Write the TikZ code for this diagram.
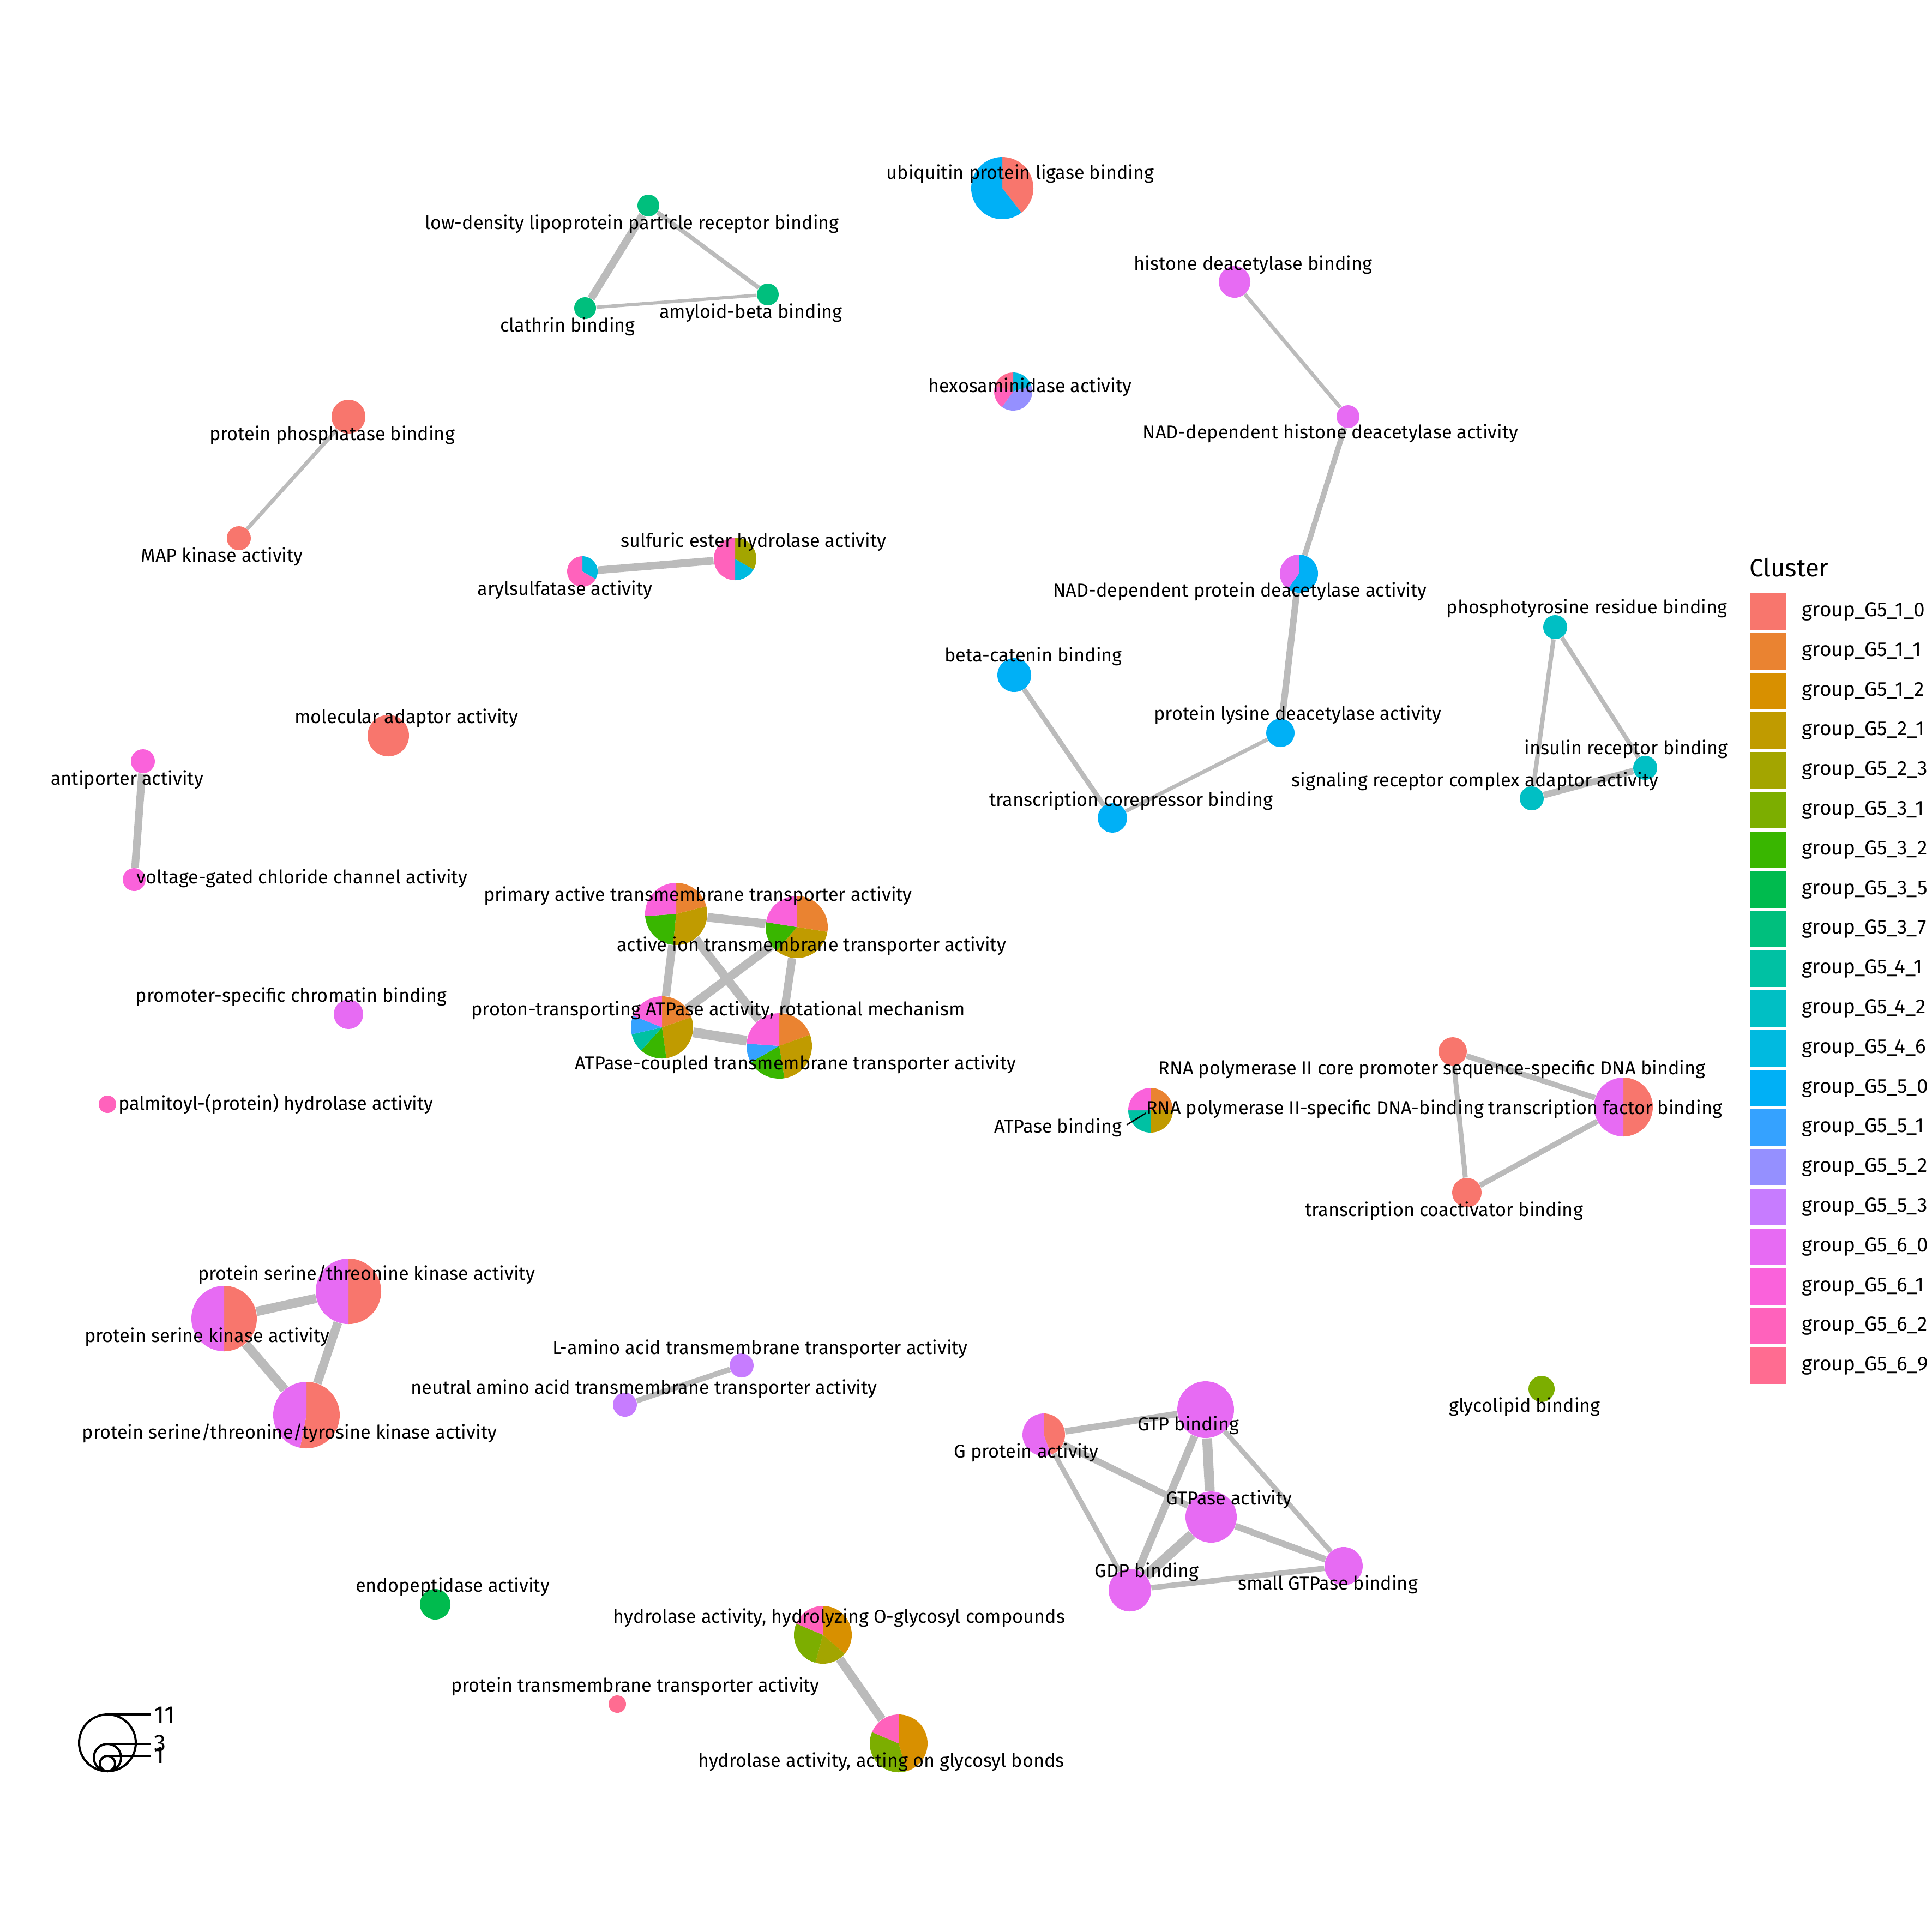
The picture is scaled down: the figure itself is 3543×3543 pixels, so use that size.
\documentclass[tikz,border=0pt]{standalone}
\usepackage{fontspec}
\setmainfont{Fira Sans}
\usepackage{tikz}
\usetikzlibrary{backgrounds}
\definecolor{g10}{HTML}{F8766D}
\definecolor{g11}{HTML}{EA8331}
\definecolor{g12}{HTML}{D89000}
\definecolor{g21}{HTML}{C09B00}
\definecolor{g23}{HTML}{A3A500}
\definecolor{g31}{HTML}{7CAE00}
\definecolor{g32}{HTML}{39B600}
\definecolor{g35}{HTML}{00BB4E}
\definecolor{g37}{HTML}{00BF7D}
\definecolor{g41}{HTML}{00C1A3}
\definecolor{g42}{HTML}{00BFC4}
\definecolor{g46}{HTML}{00BAE0}
\definecolor{g50}{HTML}{00B0F6}
\definecolor{g51}{HTML}{35A2FF}
\definecolor{g52}{HTML}{9590FF}
\definecolor{g53}{HTML}{C77CFF}
\definecolor{g60}{HTML}{E76BF3}
\definecolor{g61}{HTML}{FA62DB}
\definecolor{g62}{HTML}{FF62BC}
\definecolor{g69}{HTML}{FF6C91}
\definecolor{edgegray}{HTML}{BBBBBB}
\newcommand{\piefill}[3]{\foreach \col/\from/\to in {#3}{\fill[\col] (#1.center) -- ++(\from:{#2*0.1mm}) arc[start angle=\from,end angle=\to,radius=#2*0.1mm] -- cycle;}}

\begin{document}
\begin{tikzpicture}[x=0.1mm,y=0.1mm,
  term/.style={circle,inner sep=0pt,draw=none,minimum size=#1*0.2mm},
  lbl/.style={inner sep=0pt,font=\fontsize{9.75}{12}\selectfont},
  legtext/.style={anchor=west,inner sep=0pt,font=\fontsize{10.5}{12}\selectfont},
  link/.style={draw=edgegray,line width=#1*0.1mm},
  lead/.style={draw=black,line width=0.25mm},
  sizekey/.style={draw=black,line width=0.4mm}]
  \useasboundingbox (0,0) rectangle (3543,-3543);

  \node[term=20,fill=g37] (ldl) at (1189,-377) {};
  \node[term=20,fill=g37] (clath) at (1073,-565) {};
  \node[term=20,fill=g37] (amyl) at (1408,-540) {};
  \node[term=57] (ubq) at (1838,-345) {};
  \node[term=29,fill=g60] (hdb) at (2264,-517) {};
  \node[term=21,fill=g60] (nadh) at (2472,-764) {};
  \node[term=35] (nadp) at (2382,-1052) {};
  \node[term=26,fill=g50] (lys) at (2348,-1344) {};
  \node[term=31,fill=g50] (bcat) at (1860,-1238) {};
  \node[term=27,fill=g50] (corep) at (2040,-1500) {};
  \node[term=35] (hexo) at (1858,-718) {};
  \node[term=31,fill=g10] (ppb) at (639,-764) {};
  \node[term=22,fill=g10] (mapk) at (438,-987) {};
  \node[term=39] (sulf) at (1348,-1025) {};
  \node[term=28] (aryl) at (1068,-1048) {};
  \node[term=38,fill=g10] (molad) at (712,-1349) {};
  \node[term=22,fill=g61] (anti) at (262,-1396) {};
  \node[term=21,fill=g61] (volt) at (246,-1613) {};
  \node[term=27,fill=g60] (prom) at (639,-1860) {};
  \node[term=16,fill=g62] (palm) at (197,-2025) {};
  \node[term=57] (prim) at (1240,-1676) {};
  \node[term=57] (ion) at (1461,-1700) {};
  \node[term=57] (prot) at (1214,-1884) {};
  \node[term=60] (coup) at (1429,-1918) {};
  \node[term=22,fill=g42] (phos) at (2852,-1150) {};
  \node[term=22,fill=g42] (ins) at (3017,-1408) {};
  \node[term=22,fill=g42] (sig) at (2809,-1464) {};
  \node[term=26,fill=g10] (core) at (2664,-1928) {};
  \node[term=54] (tfb) at (2977,-2030) {};
  \node[term=27,fill=g10] (coact) at (2690,-2187) {};
  \node[term=41] (atpb) at (2110,-2036) {};
  \node[term=24,fill=g31] (glyco) at (2827,-2547) {};
  \node[term=60] (stk) at (639,-2368) {};
  \node[term=60] (sk) at (411,-2418) {};
  \node[term=61] (styk) at (562,-2595) {};
  \node[term=22,fill=g53] (lamino) at (1360,-2504) {};
  \node[term=22,fill=g53] (neut) at (1146,-2576) {};
  \node[term=52,fill=g60] (gtp) at (2211,-2585) {};
  \node[term=39] (gprot) at (1914,-2631) {};
  \node[term=47,fill=g60] (gtpase) at (2221,-2782) {};
  \node[term=39,fill=g60] (gdp) at (2072,-2916) {};
  \node[term=35,fill=g60] (small) at (2464,-2872) {};
  \node[term=28,fill=g35] (endo) at (798,-2942) {};
  \node[term=53] (hyo) at (1509,-2998) {};
  \node[term=53] (hyg) at (1648,-3197) {};
  \node[term=16,fill=g69] (ptt) at (1132,-3125) {};

  \begin{scope}[on background layer]
    \draw[link=14] (ldl) -- (clath);
    \draw[link=8] (ldl) -- (amyl);
    \draw[link=6] (clath) -- (amyl);
    \draw[link=7] (hdb) -- (nadh);
    \draw[link=10] (nadh) -- (nadp);
    \draw[link=12] (nadp) -- (lys);
    \draw[link=7] (lys) -- (corep);
    \draw[link=9] (bcat) -- (corep);
    \draw[link=7] (ppb) -- (mapk);
    \draw[link=14] (aryl) -- (sulf);
    \draw[link=14] (anti) -- (volt);
    \draw[link=16] (prim) -- (ion);
    \draw[link=15] (prim) -- (prot);
    \draw[link=16] (prim) -- (coup);
    \draw[link=16] (ion) -- (prot);
    \draw[link=15] (ion) -- (coup);
    \draw[link=18] (prot) -- (coup);
    \draw[link=8] (phos) -- (ins);
    \draw[link=8] (phos) -- (sig);
    \draw[link=12] (ins) -- (sig);
    \draw[link=10] (core) -- (tfb);
    \draw[link=9] (core) -- (coact);
    \draw[link=10] (tfb) -- (coact);
    \draw[link=17] (stk) -- (sk);
    \draw[link=16] (stk) -- (styk);
    \draw[link=17] (sk) -- (styk);
    \draw[link=10] (lamino) -- (neut);
    \draw[link=12] (gprot) -- (gtp);
    \draw[link=12] (gprot) -- (gtpase);
    \draw[link=9] (gprot) -- (gdp);
    \draw[link=18] (gtp) -- (gtpase);
    \draw[link=14] (gtp) -- (gdp);
    \draw[link=9] (gtp) -- (small);
    \draw[link=18] (gtpase) -- (gdp);
    \draw[link=12] (gtpase) -- (small);
    \draw[link=10] (gdp) -- (small);
    \draw[link=16] (hyo) -- (hyg);
  \end{scope}

  \piefill{ubq}{57}{g10/90/-52, g50/-52/-270}
  \piefill{hexo}{35}{g46/90/18, g52/18/-126, g62/-126/-198, g69/-198/-270}
  \piefill{sulf}{39}{g23/90/-30, g46/-30/-90, g62/-90/-270}
  \piefill{aryl}{28}{g46/90/-30, g62/-30/-270}
  \piefill{nadp}{35}{g50/90/-126, g60/-126/-270}
  \piefill{atpb}{41}{g11/90/0, g21/0/-90, g41/-90/-180, g61/-180/-270}
  \piefill{prim}{57}{g11/90/14, g21/14/-96, g32/-96/-176, g61/-176/-270}
  \piefill{ion}{57}{g11/90/-9, g21/-9/-130, g32/-130/-189, g61/-189/-270}
  \piefill{prot}{57}{g11/90/19, g21/19/-82, g32/-82/-132, g41/-132/-167, g51/-167/-202, g61/-202/-270}
  \piefill{coup}{60}{g11/90/20, g21/20/-81, g32/-81/-150, g51/-150/-184, g61/-184/-270}
  \piefill{stk}{60}{g10/90/-90, g60/-90/-270}
  \piefill{sk}{60}{g10/90/-90, g60/-90/-270}
  \piefill{styk}{61}{g10/90/-101, g60/-101/-270}
  \piefill{tfb}{54}{g10/90/-90, g60/-90/-270}
  \piefill{gprot}{39}{g10/90/-70, g60/-70/-270}
  \piefill{hyo}{53}{g12/90/-41, g23/-41/-105, g31/-105/-203, g62/-203/-270}
  \piefill{hyg}{53}{g12/90/-74, g31/-74/-203, g62/-203/-270}

  \node[lbl] (ubql) at (1871,-319) {ubiquitin protein ligase binding};
  \node[lbl] (ldll) at (1159,-411) {low-density lipoprotein particle receptor binding};
  \node[lbl] (clathl) at (1041,-599) {clathrin binding};
  \node[lbl] (amyll) at (1377,-574) {amyloid-beta binding};
  \node[lbl] (hdbl) at (2298,-486) {histone deacetylase binding};
  \node[lbl] (hexol) at (1889,-710) {hexosaminidase activity};
  \node[lbl] (nadhl) at (2440,-795) {NAD-dependent histone deacetylase activity};
  \node[lbl] (ppbl) at (609,-798) {protein phosphatase binding};
  \node[lbl] (mapkl) at (407,-1021) {MAP kinase activity};
  \node[lbl] (sulfl) at (1382,-994) {sulfuric ester hydrolase activity};
  \node[lbl] (aryll) at (1036,-1082) {arylsulfatase activity};
  \node[lbl] (nadpl) at (2274,-1085) {NAD-dependent protein deacetylase activity};
  \node[lbl] (phosl) at (2910,-1116) {phosphotyrosine residue binding};
  \node[lbl] (bcatl) at (1895,-1204) {beta-catenin binding};
  \node[lbl] (moladl) at (745,-1317) {molecular adaptor activity};
  \node[lbl] (lysl) at (2380,-1311) {protein lysine deacetylase activity};
  \node[lbl] (insl) at (2982,-1374) {insulin receptor binding};
  \node[lbl] (antil) at (233,-1430) {antiporter activity};
  \node[lbl] (sigl) at (2705,-1433) {signaling receptor complex adaptor activity};
  \node[lbl] (corepl) at (2074,-1469) {transcription corepressor binding};
  \node[lbl] (voltl) at (554,-1611) {voltage-gated chloride channel activity};
  \node[lbl] (priml) at (1280,-1643) {primary active transmembrane transporter activity};
  \node[lbl] (ionl) at (1488,-1735) {active ion transmembrane transporter activity};
  \node[lbl] (proml) at (534,-1828) {promoter-specific chromatin binding};
  \node[lbl] (protl) at (1317,-1853) {proton-transporting ATPase activity, rotational mechanism};
  \node[lbl] (coupl) at (1459,-1952) {ATPase-coupled transmembrane transporter activity};
  \node[lbl] (corel) at (2626,-1961) {RNA polymerase II core promoter sequence-specific DNA binding};
  \node[lbl] (palml) at (506,-2025) {palmitoyl-(protein) hydrolase activity};
  \node[lbl] (tfbl) at (2630,-2034) {RNA polymerase II-specific DNA-binding transcription factor binding};
  \node[lbl] (atpbl) at (1940,-2068) {ATPase binding};
  \node[lbl] (coactl) at (2648,-2221) {transcription coactivator binding};
  \node[lbl] (stkl) at (672,-2337) {protein serine/threonine kinase activity};
  \node[lbl] (skl) at (380,-2452) {protein serine kinase activity};
  \node[lbl] (laminol) at (1394,-2474) {L-amino acid transmembrane transporter activity};
  \node[lbl] (neutl) at (1181,-2547) {neutral amino acid transmembrane transporter activity};
  \node[lbl] (glycol) at (2796,-2580) {glycolipid binding};
  \node[lbl] (gtpl) at (2179,-2614) {GTP binding};
  \node[lbl] (stykl) at (531,-2628) {protein serine/threonine/tyrosine kinase activity};
  \node[lbl] (gprotl) at (1882,-2664) {G protein activity};
  \node[lbl] (gtpasel) at (2254,-2750) {GTPase activity};
  \node[lbl] (gdpl) at (2103,-2883) {GDP binding};
  \node[lbl] (smalll) at (2435,-2906) {small GTPase binding};
  \node[lbl] (endol) at (830,-2910) {endopeptidase activity};
  \node[lbl] (hyol) at (1539,-2967) {hydrolase activity, hydrolyzing O-glycosyl compounds};
  \node[lbl] (pttl) at (1165,-3093) {protein transmembrane transporter activity};
  \node[lbl] (hygl) at (1616,-3231) {hydrolase activity, acting on glycosyl bonds};
  \draw[lead,shorten <=1mm,shorten >=1mm] (atpbl.east) -- (atpb.center);

  \node[anchor=west,inner sep=0pt,font=\fontsize{13}{15}\selectfont] (legtitle) at (3208,-1041) {Cluster};
  \foreach \c/\t [count=\i from 0] in {g10/1\_0,g11/1\_1,g12/1\_2,g21/2\_1,g23/2\_3,g31/3\_1,g32/3\_2,g35/3\_5,g37/3\_7,g41/4\_1,g42/4\_2,g46/4\_6,g50/5\_0,g51/5\_1,g52/5\_2,g53/5\_3,g60/6\_0,g61/6\_1,g62/6\_2,g69/6\_9}{
    \node[rectangle,fill=\c,inner sep=0pt,minimum width=6.6mm,minimum height=6.7mm] (key\i) at (3243,{-1121.5-72.8*\i}) {};
    \node[legtext] (keyl\i) at (3304,{-1121.5-72.8*\i}) {group\_G5\_\t};
  }

  \draw[sizekey] (197,-3196) circle[radius=5.2mm];
  \draw[sizekey] (197,-3223) circle[radius=2.5mm];
  \draw[sizekey] (197,-3234) circle[radius=1.4mm];
  \draw[sizekey] (197,-3144) -- (276,-3144);
  \draw[sizekey] (197,-3198) -- (276,-3198);
  \draw[sizekey] (197,-3220) -- (276,-3220);
  \node[anchor=west,inner sep=0pt,font=\fontsize{12.5}{14}\selectfont] (n11) at (282,-3145) {11};
  \node[anchor=west,inner sep=0pt,font=\fontsize{12.5}{14}\selectfont] (n3) at (282,-3197) {3};
  \node[anchor=west,inner sep=0pt,font=\fontsize{12.5}{14}\selectfont] (n1) at (282,-3219) {1};
\end{tikzpicture}
\end{document}
